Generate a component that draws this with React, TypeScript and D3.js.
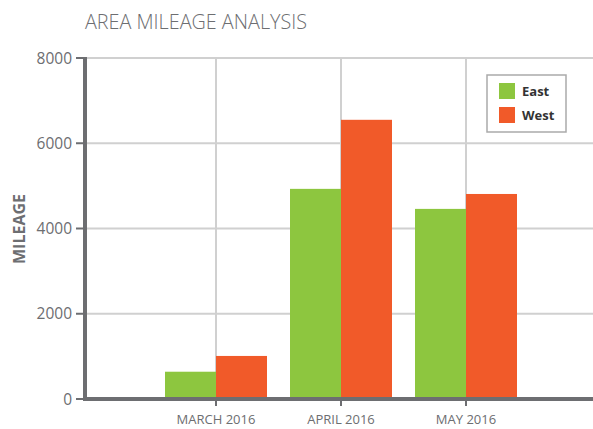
import React from "react";
import * as d3 from "d3";

const categories = ["MARCH 2016", "APRIL 2016", "MAY 2016"];
const seriesNames = ["East", "West"];
const eastValues = [640, 4930, 4460];
const westValues = [1010, 6550, 4810];
const yTicks = [0, 2000, 4000, 6000, 8000];
const colors = ["#8dc63f", "#f15a29"];

const W = 593;
const H = 429;
const FONT = "'Open Sans', 'Noto Sans', sans-serif";

export default function App() {
  const y = d3.scaleLinear().domain([0, 8000]).range([399, 58]);
  const x = d3.scaleBand().domain(categories).range([153.5, 528.5]).paddingInner(0.184).paddingOuter(0.092);
  const sub = d3.scaleBand().domain(seriesNames).range([0, x.bandwidth()]);
  const values = [eastValues, westValues];
  const axisColor = "#6d6e71";
  const gridColor = "#d0d0d0";
  const xLeft = 85;
  const xRight = W;

  return (
    <svg width={W} height={H} style={{ position: "absolute", left: 0, top: 0, display: "block", background: "#fff" }}>
      <text x={85} y={29} fontFamily={FONT} fontSize={19.5} fontWeight={300} fill="#6d6e71" textLength={222} lengthAdjust="spacingAndGlyphs">
        AREA MILEAGE ANALYSIS
      </text>
      {yTicks.filter((t) => t > 0).map((t) => (
        <line key={"hg" + t} x1={xLeft} x2={xRight} y1={y(t)} y2={y(t)} stroke={gridColor} strokeWidth={2} />
      ))}
      {categories.map((c) => {
        const cx = (x(c) as number) + x.bandwidth() / 2;
        return <line key={"vg" + c} x1={cx} x2={cx} y1={y(8000)} y2={y(0)} stroke={gridColor} strokeWidth={2} />;
      })}
      {categories.map((c, i) =>
        seriesNames.map((s, j) => (
          <rect
            key={c + s}
            x={(x(c) as number) + (sub(s) as number)}
            y={y(values[j][i])}
            width={sub.bandwidth()}
            height={y(0) - y(values[j][i])}
            fill={colors[j]}
          />
        ))
      )}
      <line x1={xLeft} x2={xLeft} y1={y(8000) - 1} y2={y(0) + 1} stroke={axisColor} strokeWidth={4} />
      {yTicks.map((t) => (
        <g key={"yt" + t}>
          <line x1={76} x2={xLeft} y1={y(t)} y2={y(t)} stroke={axisColor} strokeWidth={2} />
          <text x={72} y={y(t)} dy="0.36em" textAnchor="end" fontFamily={FONT} fontSize={15.5} fill="#6d6e71">
            {t}
          </text>
        </g>
      ))}
      <line x1={xLeft - 2} x2={xRight} y1={y(0)} y2={y(0)} stroke={axisColor} strokeWidth={4} />
      {categories.map((c) => {
        const cx = (x(c) as number) + x.bandwidth() / 2;
        return (
          <g key={"xt" + c}>
            <line x1={cx} x2={cx} y1={y(0)} y2={y(0) + 7} stroke={axisColor} strokeWidth={2} />
            <text x={cx} y={424} textAnchor="middle" fontFamily={FONT} fontSize={13} fill="#6d6e71">
              {c}
            </text>
          </g>
        );
      })}
      <text
        transform={`translate(25, 229) rotate(-90)`}
        textAnchor="middle"
        fontFamily={FONT}
        fontSize={16}
        fontWeight={700}
        fill="#6d6e71"
      >
        MILEAGE
      </text>
      <rect x={487} y={75} width={79} height={57} fill="#fff" stroke="#aaaaaa" strokeWidth={1.5} />
      {seriesNames.map((s, j) => (
        <g key={"lg" + s}>
          <rect x={499} y={83 + j * 24} width={16} height={16} fill={colors[j]} />
          <text x={522} y={96 + j * 24} fontFamily={FONT} fontSize={13} fontWeight={700} fill="#333">
            {s}
          </text>
        </g>
      ))}
    </svg>
  );
}
